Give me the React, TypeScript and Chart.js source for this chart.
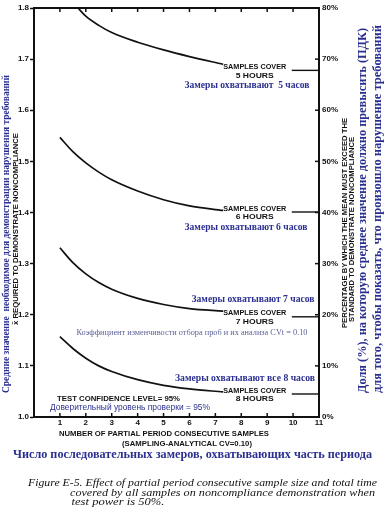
import { useEffect, useRef } from "react";
import { Chart, registerables } from "chart.js";

Chart.register(...registerables);

// ---- data ----
const curveX = [1, 1.5, 2, 2.5, 3, 4, 5, 6, 7.3];
const cover5X = [1.7, 2, 2.5, 3, 4, 5, 6, 7.3];
const cover5 = [1.8, 1.784, 1.766, 1.752, 1.733, 1.718, 1.705, 1.69];
const cover6 = [1.547, 1.519, 1.497, 1.479, 1.464, 1.442, 1.425, 1.413, 1.404];
const cover7 = [1.331, 1.302, 1.28, 1.263, 1.25, 1.232, 1.22, 1.212, 1.207];
const cover8 = [1.157, 1.134, 1.115, 1.1, 1.089, 1.073, 1.062, 1.055, 1.049];
const pointerLevels = [1.678, 1.401, 1.196, 1.045];
const pointerX = [9.95, 11];
const hoursLabels = ["5 HOURS", "6 HOURS", "7 HOURS", "8 HOURS"];
const xTickValues = [1, 2, 3, 4, 5, 6, 7, 8, 9, 10, 11];
const leftTicks = [1.0, 1.1, 1.2, 1.3, 1.4, 1.5, 1.6, 1.7, 1.8];
const rightTicks = [0, 10, 20, 30, 40, 50, 60, 70, 80];

const BLUE = "#2b3090";
const INK = "#111";
const SANS = "'Liberation Sans', Arial, sans-serif";
const SERIF = "'Liberation Serif', 'Times New Roman', serif";

function fitText(
  ctx: CanvasRenderingContext2D,
  text: string,
  cx: number,
  cy: number,
  width: number,
  font: string,
  color: string,
  rotate = false
) {
  ctx.save();
  ctx.font = font;
  ctx.fillStyle = color;
  ctx.textAlign = "center";
  ctx.textBaseline = "middle";
  const w = ctx.measureText(text).width || 1;
  ctx.translate(cx, cy);
  if (rotate) ctx.rotate(-Math.PI / 2);
  ctx.scale(width / w, 1);
  ctx.fillText(text, 0, 0);
  ctx.restore();
}

const decorPlugin = {
  id: "decor",
  afterDraw(chart: any) {
    const ctx: CanvasRenderingContext2D = chart.ctx;
    const { left, right, top, bottom } = chart.chartArea;
    const xs = chart.scales.x;
    const ys = chart.scales.y;
    const y2 = chart.scales.y2;
    ctx.save();
    // top frame
    ctx.strokeStyle = INK;
    ctx.lineWidth = 2;
    ctx.beginPath();
    ctx.moveTo(left - 1, top);
    ctx.lineTo(right + 1, top);
    ctx.stroke();
    // inward ticks on top and bottom
    ctx.lineWidth = 1.5;
    xTickValues.forEach((v) => {
      if (v >= 11) return;
      const px = xs.getPixelForValue(v);
      ctx.beginPath();
      ctx.moveTo(px, top);
      ctx.lineTo(px, top + 4);
      ctx.moveTo(px, bottom);
      ctx.lineTo(px, bottom - 4);
      ctx.stroke();
    });
    // inward ticks on right axis
    rightTicks.forEach((v) => {
      const py = y2.getPixelForValue(v);
      ctx.beginPath();
      ctx.moveTo(right, py);
      ctx.lineTo(right - 4, py);
      ctx.stroke();
    });
    ctx.restore();

    // curve labels
    pointerLevels.forEach((lvl, i) => {
      const py = ys.getPixelForValue(lvl);
      const cx = xs.getPixelForValue(8.52);
      fitText(ctx, "SAMPLES COVER", cx, py - 3.5, 63, `bold 8px ${SANS}`, INK);
      fitText(ctx, hoursLabels[i], cx, py + 5, 38, `bold 8px ${SANS}`, INK);
    });

    // Russian annotations
    fitText(ctx, "Замеры охватывают  5 часов", 247, 85, 125, `bold 10px ${SERIF}`, BLUE);
    fitText(ctx, "Замеры охватывают 6 часов", 246, 227, 123, `bold 10px ${SERIF}`, BLUE);
    fitText(ctx, "Замеры охватывают 7 часов", 253, 299, 123, `bold 10px ${SERIF}`, BLUE);
    fitText(ctx, "Замеры охватывают все 8 часов", 245, 378, 140, `bold 10px ${SERIF}`, BLUE);
    fitText(
      ctx,
      "Коэффициент изменчивости отбора проб и их анализа CVt = 0.10",
      192,
      333,
      231,
      `9px ${SERIF}`,
      "#5c6098"
    );
    fitText(ctx, "TEST CONFIDENCE LEVEL= 95%", 118.5, 399, 123, `bold 8px ${SANS}`, INK);
    fitText(ctx, "Доверительный уровень проверки = 95%", 130, 408, 160, `8.5px ${SANS}`, BLUE);

    // x axis titles
    fitText(ctx, "NUMBER OF PARTIAL PERIOD CONSECUTIVE SAMPLES", 164, 434, 210, `bold 8px ${SANS}`, INK);
    fitText(ctx, "(SAMPLING-ANALYTICAL CV=0.10)", 187, 444, 130, `bold 8px ${SANS}`, INK);
    fitText(
      ctx,
      "Число последовательных замеров, охватывающих часть периода",
      192.5,
      455,
      359,
      `bold 13px ${SERIF}`,
      BLUE
    );

    // left axis titles
    fitText(ctx, "x\u0304 REQUIRED TO DEMONSTRATE NONCOMPLIANCE", 15.5, 229, 192, `bold 7.5px ${SANS}`, INK, true);
    fitText(
      ctx,
      "Средние значение  необходимое для демонстрации нарушения требований",
      6.5,
      234,
      318,
      `bold 10.5px ${SERIF}`,
      BLUE,
      true
    );

    // right axis titles
    fitText(ctx, "PERCENTAGE BY WHICH THE MEAN MUST EXCEED THE", 345.5, 223, 210, `bold 7px ${SANS}`, INK, true);
    fitText(ctx, "STANDARD TO DEMONSTRATE NONCOMPLIANCE", 352.5, 229.5, 185, `bold 7px ${SANS}`, INK, true);
    fitText(
      ctx,
      "Доля (%), на которую среднее значение должно превысить (ПДК)",
      363,
      210.5,
      365,
      `bold 12px ${SERIF}`,
      BLUE,
      true
    );
    fitText(
      ctx,
      "для того, чтобы показать, что произошло нарушение требований",
      378,
      209,
      368,
      `bold 12px ${SERIF}`,
      BLUE,
      true
    );

    // caption
    fitText(
      ctx,
      "Figure E-5. Effect of partial period consecutive sample size and total time",
      202.5,
      483,
      349,
      `italic 10.5px ${SERIF}`,
      INK
    );
    fitText(
      ctx,
      "covered by all samples on noncompliance demonstration when",
      222.5,
      493,
      305,
      `italic 10.5px ${SERIF}`,
      INK
    );
    fitText(ctx, "test power is 50%.", 118, 502.5, 93, `italic 10.5px ${SERIF}`, INK);
  },
};

function curve(xsArr: number[], ysArr: number[]) {
  return {
    data: ysArr.map((y, i) => ({ x: xsArr[i], y })),
    borderColor: INK,
    borderWidth: 1.7,
    pointRadius: 0,
    fill: false,
    cubicInterpolationMode: "monotone" as const,
    yAxisID: "y",
  };
}

export default function App() {
  const ref = useRef<HTMLCanvasElement | null>(null);
  useEffect(() => {
    if (!ref.current) return;
    const datasets: any[] = [
      curve(cover5X, cover5),
      curve(curveX, cover6),
      curve(curveX, cover7),
      curve(curveX, cover8),
      ...pointerLevels.map((lvl) => ({
        data: pointerX.map((x) => ({ x, y: lvl })),
        borderColor: INK,
        borderWidth: 1.4,
        pointRadius: 0,
        fill: false,
        yAxisID: "y",
      })),
    ];
    const tickFont = { family: SANS, weight: "bold" as const, size: 8 };
    const chart = new Chart(ref.current, {
      type: "line",
      data: { datasets },
      options: {
        animation: false,
        responsive: false,
        maintainAspectRatio: false,
        layout: { padding: { top: 8, left: 0, right: 0, bottom: 0 } },
        plugins: { legend: { display: false }, tooltip: { enabled: false } },
        scales: {
          x: {
            type: "linear",
            position: "bottom",
            min: 0,
            max: 11,
            afterFit: (s: any) => {
              s.height = 95;
            },
            afterBuildTicks: (s: any) => {
              s.ticks = xTickValues.map((v) => ({ value: v }));
            },
            ticks: {
              autoSkip: false,
              maxRotation: 0,
              padding: 1,
              font: tickFont,
              color: INK,
              callback: (v: any) => String(v),
            },
            grid: { drawOnChartArea: false, drawTicks: false },
            border: { color: INK, width: 2 },
          },
          y: {
            type: "linear",
            position: "left",
            min: 1,
            max: 1.8,
            afterFit: (s: any) => {
              s.width = 34;
            },
            afterBuildTicks: (s: any) => {
              s.ticks = leftTicks.map((v) => ({ value: v }));
            },
            ticks: {
              padding: 1,
              font: tickFont,
              color: INK,
              callback: (v: any) => Number(v).toFixed(1),
            },
            grid: { drawOnChartArea: false, drawTicks: true, tickLength: 4, color: INK, tickWidth: 1.5 },
            border: { color: INK, width: 2 },
          },
          y2: {
            type: "linear",
            position: "right",
            min: 0,
            max: 80,
            afterFit: (s: any) => {
              s.width = 72;
            },
            afterBuildTicks: (s: any) => {
              s.ticks = rightTicks.map((v) => ({ value: v }));
            },
            ticks: {
              padding: 3,
              font: tickFont,
              color: INK,
              callback: (v: any) => `${v}%`,
            },
            grid: { drawOnChartArea: false, drawTicks: false },
            border: { color: INK, width: 2 },
          },
        },
      },
      plugins: [decorPlugin],
    });
    return () => chart.destroy();
  }, []);
  return (
    <div style={{ position: "absolute", left: 0, top: 0, width: 391, height: 512, background: "#fff" }}>
      <canvas ref={ref} width={391} height={512} style={{ width: 391, height: 512, display: "block" }} />
    </div>
  );
}
